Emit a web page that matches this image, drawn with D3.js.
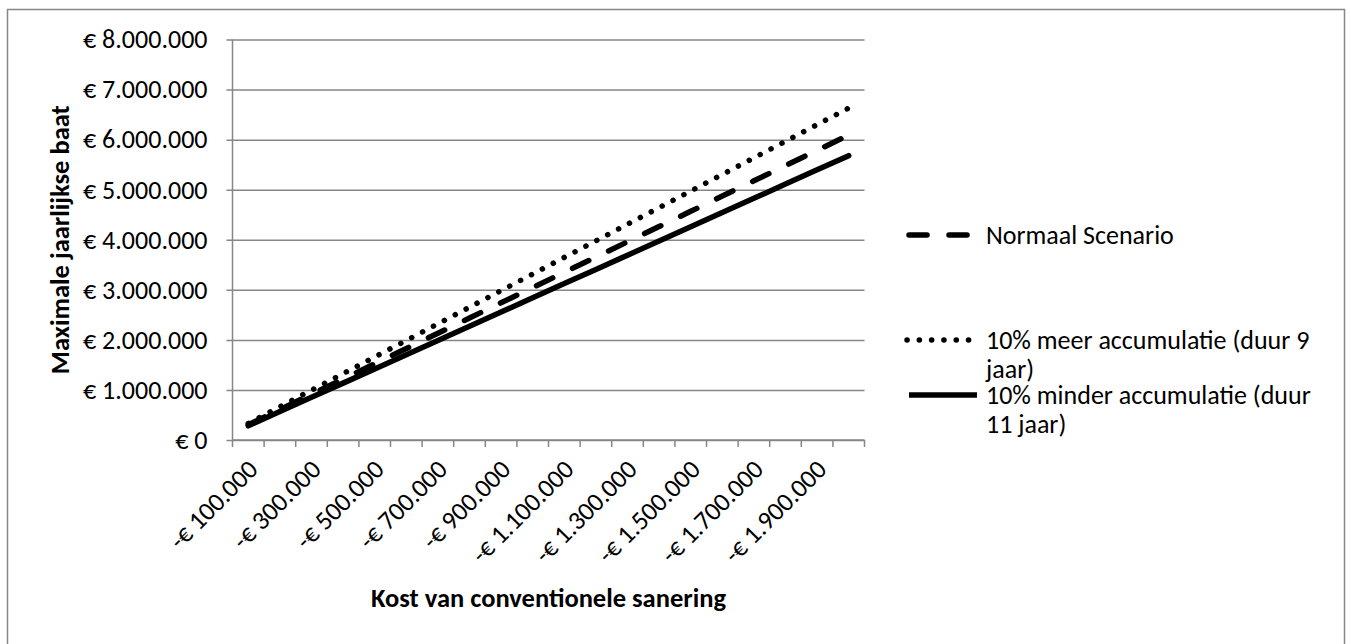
<!DOCTYPE html>
<html>
<head>
<meta charset="utf-8">
<script src="https://cdn.jsdelivr.net/npm/d3@7"></script>
<style>
  body { margin: 0; background: #fff; }
  svg { display: block; font-family: Carlito, Lato, "Open Sans", sans-serif; }
</style>
</head>
<body>
<div id="chart"></div>
<script>
// category axis: cost of conventional remediation
const categories = ["-€ 100.000", "-€ 200.000", "-€ 300.000", "-€ 400.000", "-€ 500.000",
    "-€ 600.000", "-€ 700.000", "-€ 800.000", "-€ 900.000", "-€ 1.000.000",
    "-€ 1.100.000", "-€ 1.200.000", "-€ 1.300.000", "-€ 1.400.000", "-€ 1.500.000",
    "-€ 1.600.000", "-€ 1.700.000", "-€ 1.800.000", "-€ 1.900.000", "-€ 2.000.000"];

// values
const normaal = [305000, 609000, 914000, 1218000, 1523000, 1827000, 2132000, 2436000, 2741000, 3045000,
    3350000, 3654000, 3959000, 4263000, 4568000, 4872000, 5177000, 5481000, 5786000, 6090000];
const meer = [332000, 663000, 995000, 1326000, 1658000, 1989000, 2321000, 2652000, 2984000, 3315000,
    3647000, 3978000, 4310000, 4641000, 4973000, 5304000, 5636000, 5967000, 6299000, 6630000];
const minder = [284000, 568000, 852000, 1136000, 1420000, 1704000, 1988000, 2272000, 2556000, 2840000,
    3124000, 3408000, 3692000, 3976000, 4260000, 4544000, 4828000, 5112000, 5396000, 5680000];

const yTicks = [0, 1000000, 2000000, 3000000, 4000000, 5000000, 6000000, 7000000, 8000000];
const seriesNames = ["Normaal Scenario", "10% meer accumulatie (duur 9|jaar)", "10% minder accumulatie (duur|11 jaar)"];

const width = 1351;
const height = 644;
const plot = { left: 232.5, right: 864.5, top: 39.5, bottom: 440 };
const grey = '#868686';
const font = 'Carlito, Lato, "Open Sans", sans-serif';

const nl = d3.formatLocale({ decimal: ",", thousands: ".", grouping: [3], currency: ["€ ", ""] });
const fmtY = nl.format("$,.0f");

const svg = d3.select('#chart')
    .append('svg')
    .attr('width', width)
    .attr('height', height);

// outer chart border
svg.append('rect')
    .attr('x', 7.5).attr('y', 9.5)
    .attr('width', 1337).attr('height', 645)
    .attr('fill', 'none')
    .attr('stroke', grey)
    .attr('stroke-width', 1.5);

const xScale = d3.scaleBand()
    .domain(categories)
    .range([plot.left, plot.right])
    .padding(0);

const yScale = d3.scaleLinear()
    .domain([0, 8000000])
    .range([plot.bottom, plot.top]);

// gridlines + y axis
const yAxis = svg.append('g')
    .attr('transform', `translate(${plot.left},0)`)
    .call(d3.axisLeft(yScale)
        .tickValues(yTicks)
        .tickSize(-(plot.right - plot.left))
        .tickSizeOuter(0)
        .tickPadding(25)
        .tickFormat(fmtY));
yAxis.attr('font-family', font).attr('font-size', 26);
yAxis.select('.domain').remove();
yAxis.selectAll('.tick line')
    .attr('x1', -6)
    .attr('stroke', grey)
    .attr('stroke-width', 1.5);
yAxis.selectAll('.tick text')
    .attr('fill', '#000');

svg.append('line')
    .attr('x1', plot.left).attr('x2', plot.left)
    .attr('y1', plot.top).attr('y2', plot.bottom)
    .attr('stroke', grey).attr('stroke-width', 1.5);

// x axis with ticks between categories
const xAxis = svg.append('g')
    .attr('transform', `translate(0,${plot.bottom})`);
xAxis.append('line')
    .attr('x1', plot.left).attr('x2', plot.right)
    .attr('stroke', grey).attr('stroke-width', 1.5);
xAxis.selectAll('.xtick')
    .data(categories.concat(['end']))
    .enter()
    .append('line')
    .attr('x1', (d, i) => i < categories.length ? xScale(d) : plot.right)
    .attr('x2', (d, i) => i < categories.length ? xScale(d) : plot.right)
    .attr('y1', 0).attr('y2', 7)
    .attr('stroke', grey).attr('stroke-width', 1.5);

xAxis.selectAll('.xlabel')
    .data(categories.filter((d, i) => i % 2 === 0))
    .enter()
    .append('text')
    .attr('transform', d => `translate(${xScale(d) + xScale.bandwidth() / 2 + 11},31) rotate(-45)`)
    .attr('text-anchor', 'end')
    .attr('font-size', 26)
    .text(d => d);

// axis titles
svg.append('text')
    .attr('transform', `translate(69,${(plot.top + plot.bottom) / 2}) rotate(-90)`)
    .attr('text-anchor', 'middle')
    .attr('font-size', 26.5)
    .attr('font-weight', 'bold')
    .text('Maximale jaarlijkse baat');

svg.append('text')
    .attr('x', (plot.left + plot.right) / 2)
    .attr('y', 607)
    .attr('text-anchor', 'middle')
    .attr('font-size', 26.5)
    .attr('font-weight', 'bold')
    .text('Kost van conventionele sanering');

// lines
const series = [
    { name: seriesNames[0], values: normaal, dash: '18 22', legendY: 235 },
    { name: seriesNames[1], values: meer, dash: '0.1 12.2', legendY: 340 },
    { name: seriesNames[2], values: minder, dash: null, legendY: 395 }
];

const line = d3.line()
    .x((d, i) => xScale(categories[i]) + xScale.bandwidth() / 2)
    .y(d => yScale(d));

svg.selectAll('.series')
    .data(series)
    .enter()
    .append('path')
    .attr('d', s => line(s.values))
    .attr('fill', 'none')
    .attr('stroke', '#000')
    .attr('stroke-width', 5.5)
    .attr('stroke-linecap', 'round')
    .attr('stroke-dasharray', s => s.dash);

// legend
let legend = svg.append('g');
series.forEach(s => {
    legend.append('line')
        .attr('x1', s.dash && s.dash.startsWith('0.1') ? 907 : 909)
        .attr('x2', s.dash ? 969 : 977)
        .attr('y1', s.legendY).attr('y2', s.legendY)
        .attr('stroke', '#000')
        .attr('stroke-width', 5.5)
        .attr('stroke-linecap', s.dash ? 'round' : 'butt')
        .attr('stroke-dasharray', s.dash);
    let t = legend.append('text')
        .attr('y', s.legendY)
        .attr('font-size', 26);
    s.name.split('|').forEach((part, k) => {
        t.append('tspan')
            .attr('x', 986)
            .attr('dy', k === 0 ? '0.35em' : 28.5)
            .text(part);
    });
});
</script>
</body>
</html>
